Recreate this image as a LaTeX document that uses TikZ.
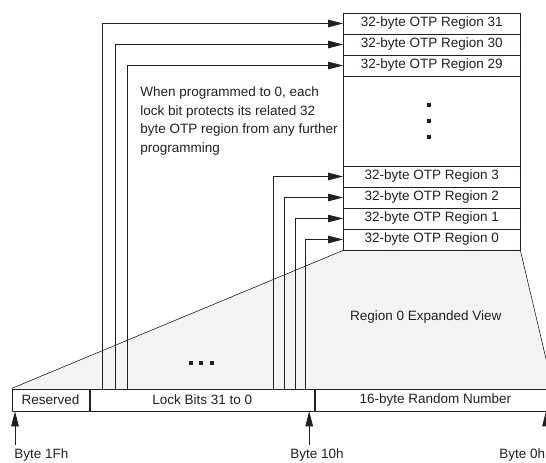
\documentclass[tikz,border=0pt]{standalone}
\usepackage{fontspec}
\setmainfont{Liberation Sans}
\usetikzlibrary{arrows.meta,backgrounds}
\definecolor{viewgray}{RGB}{242,243,242}
\definecolor{ink}{RGB}{35,31,32}
\begin{document}
\begin{tikzpicture}[x=1pt,y=-1pt,font=\fontsize{13.5}{18.5}\selectfont, line join=round, line width=0.8pt, draw=ink, text=ink,
>={Triangle[length=15pt,width=7.5pt]},
region/.style={draw=ink,fill=white,minimum width=176.5pt,minimum height=21pt,inner sep=0pt},
field/.style={draw=ink,fill=white,minimum height=22pt,inner sep=0pt,anchor=north west}]
\useasboundingbox (0,0) rectangle (546,463);
\clip (0,0) rectangle (546,463);
% OTP regions
\path(431.75,23.5)node[region](R31){32-byte OTP Region 31}++(0,21)node[region](R30){32-byte OTP Region 30}++(0,21)node[region](R29){32-byte OTP Region 29}
++(0,55.5)node[region,minimum height=90pt](Rdots){}++(0,55.5)node[region](R3){32-byte OTP Region 3}++(0,21)node[region](R2){32-byte OTP Region 2}
++(0,21)node[region](R1){32-byte OTP Region 1}++(0,21)node[region](R0){32-byte OTP Region 0};
\draw[line width=1.4pt](R29.south west)--(R29.south east);
\foreach \d in {-16,0,16} \fill[ink]([shift={(-2.5,\d)}]Rdots.center)+(-1.8,-1.8)rectangle+(1.8,1.8);
% byte fields
\node[field,minimum width=77.3pt](Res) at (11.5,388.5){Reserved};
\node[field,minimum width=224.6pt](Lock) at (Res.north east){Lock Bits 31 to 0};
\node[field,minimum width=240pt](Rnd) at (Lock.north east){16-byte Random Number\hspace{9pt}};
\begin{scope}[on background layer]
\draw[fill=viewgray,line width=0.5pt](Res.north west)--(R0.south west)--(R0.south east)--(553,388.5);
\end{scope}
\node (ev) at (425.7,316.7){Region 0 Expanded View};
\foreach \x in {190.8,201.3,211.7} \fill[ink](\x,363)+(-2,-2)rectangle+(2,2);
\node[anchor=north west,align=left,inner sep=0pt](note) at (140,86.5){When programmed to 0, each\\lock bit protects its related 32\\byte OTP region from any further\\programming};
% lock bits
\coordinate(L31) at (102.5,388.5);
\coordinate(L30) at (115.3,388.5);
\coordinate(L29) at (127.3,388.5);
\coordinate(L3) at (273.7,388.5);
\coordinate(L2) at (284.5,388.5);
\coordinate(L1) at (295.3,388.5);
\coordinate(L0) at (305.8,388.5);
\begin{scope}[->]
\draw(L31)|-(R31);
\draw(L30)|-(R30);
\draw(L29)|-(R29);
\draw(L3)|-(R3);
\draw(L2)|-(R2);
\draw(L1)|-(R1);
\draw(L0)|-(R0);
\end{scope}
% byte offsets
\coordinate(b1F) at (15,445);
\coordinate(b10) at (309.2,445);
\coordinate(b0) at (546,445);
\begin{scope}[->]
\draw(b1F)--(b1F|-Res.south);
\draw(b10)--(b10|-Lock.south);
\draw(b0)--(b0|-Rnd.south);
\end{scope}
\node[anchor=west,inner sep=0pt](t1F) at (14,455.3){Byte 1Fh};
\node[anchor=west,inner sep=0pt](t10) at (290,455.3){Byte 10h};
\node[anchor=west,inner sep=0pt](t0) at (499,455.3){Byte 0h};
\end{tikzpicture}
\end{document}
